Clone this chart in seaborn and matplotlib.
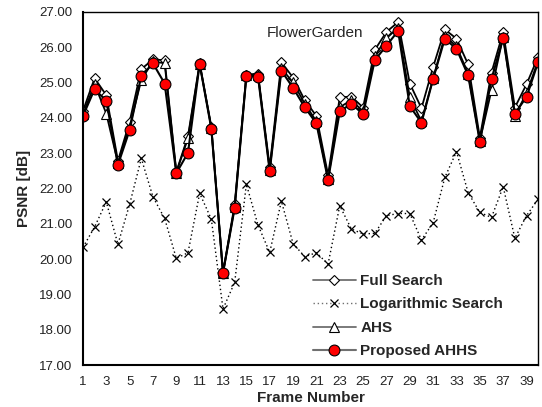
import numpy as np
import pandas as pd
import matplotlib
matplotlib.use("Agg")
import matplotlib.pyplot as plt
import seaborn as sns

frames = list(range(1, 41))
full_search = [24.19, 25.12, 24.64, 22.78, 23.89, 25.38, 25.65, 25.63, 22.47, 23.48,
               25.55, 23.75, 19.62, 21.55, 25.22, 25.25, 22.61, 25.57, 25.14, 24.50,
               24.05, 22.38, 24.58, 24.60, 24.29, 25.92, 26.43, 26.71, 24.97, 24.27,
               25.44, 26.50, 26.24, 25.51, 23.44, 25.28, 26.43, 24.29, 24.95, 25.73]
log_search = [20.33, 20.91, 21.62, 20.42, 21.55, 22.85, 21.76, 21.15, 20.02, 20.18,
              21.86, 21.13, 18.59, 19.34, 22.12, 20.96, 20.19, 21.64, 20.44, 20.07,
              20.18, 19.86, 21.51, 20.85, 20.71, 20.73, 21.23, 21.29, 21.29, 20.54,
              21.03, 22.31, 23.04, 21.88, 21.32, 21.18, 22.05, 20.59, 21.23, 21.70]
ahs = [24.10, 24.95, 24.12, 22.72, 23.75, 25.07, 25.60, 25.54, 22.45, 23.42,
       25.52, 23.72, 19.60, 21.48, 25.20, 25.20, 22.52, 25.40, 25.00, 24.40,
       23.90, 22.28, 24.30, 24.50, 24.18, 25.75, 26.25, 26.55, 24.58, 23.90,
       25.12, 26.32, 26.02, 25.25, 23.35, 24.78, 26.30, 24.05, 24.70, 25.62]
proposed = [24.05, 24.81, 24.48, 22.67, 23.65, 25.19, 25.54, 24.97, 22.43, 23.01,
            25.52, 23.69, 19.61, 21.45, 25.18, 25.16, 22.49, 25.33, 24.85, 24.30,
            23.84, 22.24, 24.18, 24.40, 24.10, 25.63, 26.04, 26.46, 24.33, 23.86,
            25.10, 26.24, 25.95, 25.20, 23.32, 25.10, 26.26, 24.12, 24.59, 25.58]
series_names = ["Full Search", "Logarithmic Search", "AHS", "Proposed AHHS"]
xtick_labels = [str(v) for v in range(1, 40, 2)]
ytick_values = [17, 18, 19, 20, 21, 22, 23, 24, 25, 26, 27]

df = pd.DataFrame({"Frame": frames, series_names[0]: full_search,
                   series_names[1]: log_search, series_names[2]: ahs,
                   series_names[3]: proposed})

sns.set_style("white")
plt.rcParams["font.family"] = ["Liberation Sans", "DejaVu Sans"]

fig = plt.figure(figsize=(5.42, 4.07), dpi=100)
ax = fig.add_axes([0.153, 0.103, 0.840, 0.868])

styles = {
    "Full Search": dict(marker="D", markersize=5.5, markerfacecolor="white",
                        markeredgecolor="black", markeredgewidth=0.8,
                        color="black", linewidth=1.3, linestyle="-"),
    "Logarithmic Search": dict(marker="x", markersize=6, markeredgecolor="black",
                               markeredgewidth=0.9, color="black", linewidth=1.0,
                               linestyle=(0, (1, 2))),
    "AHS": dict(marker="^", markersize=6.5, markerfacecolor="white",
                markeredgecolor="black", markeredgewidth=0.8,
                color="black", linewidth=1.3, linestyle="-"),
    "Proposed AHHS": dict(marker="o", markersize=7.8, markerfacecolor="#ff0000",
                          markeredgecolor="black", markeredgewidth=0.8,
                          color="black", linewidth=1.5, linestyle="-"),
}
for name in series_names:
    st = dict(styles[name])
    ls = st.pop("linestyle")
    sns.lineplot(data=df, x="Frame", y=name, ax=ax, label=name, **st)
    ax.lines[-1].set_linestyle(ls)

ax.set_xlim(1, 40)
ax.set_ylim(17, 27)
ax.set_xticks(list(range(1, 40, 2)))
ax.set_xticklabels(xtick_labels, fontsize=9.5, color="#222222")
ax.set_xticks(frames, minor=True)
ax.set_yticks(ytick_values)
ax.set_yticklabels([f"{v:.2f}" for v in ytick_values], fontsize=9.5, color="#222222")
ax.tick_params(axis="x", which="both", direction="in", length=4, width=0.8, pad=8)
ax.tick_params(axis="y", direction="inout", length=7, width=0.8, pad=4)
for sp in ax.spines.values():
    sp.set_color("black")
    sp.set_linewidth(1.0)
ax.spines["left"].set_linewidth(1.5)
ax.spines["bottom"].set_linewidth(1.5)

ax.set_xlabel("Frame Number", fontsize=11, fontweight="bold", labelpad=2)
ax.set_ylabel("PSNR [dB]", fontsize=11, fontweight="bold", labelpad=6)
ax.text(0.51, 0.94, "FlowerGarden", transform=ax.transAxes, fontsize=11,
        ha="center", va="center")

leg = ax.legend(loc="lower left", bbox_to_anchor=(0.475, -0.02), frameon=False,
                handlelength=2.8, handletextpad=0.3, labelspacing=0.62,
                prop={"weight": "bold", "size": 11})
for h in leg.legend_handles:
    h.set_color("#707070")
    h.set_markeredgecolor("black")
fig.savefig("out.png", dpi=100)
